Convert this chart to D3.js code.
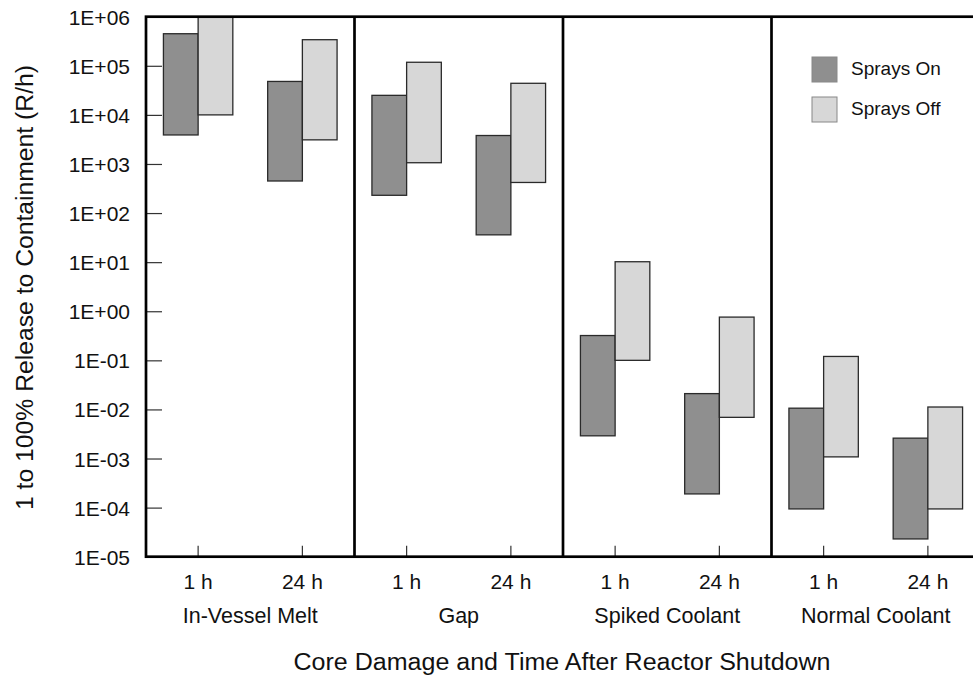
<!DOCTYPE html>
<html lang="en">
<head>
<meta charset="UTF-8">
<title>Release to Containment</title>
<script src="https://cdn.jsdelivr.net/npm/d3@7"></script>
<style>
  * { margin: 0; padding: 0; }
  body { background: #fff; overflow: hidden; }
  svg { display: block; font-family: "Liberation Sans", Arial, sans-serif; }
</style>
</head>
<body>
<svg id="chart" width="973" height="677"></svg>
<script>
// core damage groups and times after shutdown
const groups = ["In-Vessel Melt", "Gap", "Spiked Coolant", "Normal Coolant"];
const times = ["1 h", "24 h"];
const series = ["Sprays On", "Sprays Off"];

// [low, high] dose-rate ranges (R/h), order: group x time
const spraysOnLow  = [3.9e3, 4.5e2, 2.3e2, 3.6e1, 2.9e-3, 1.9e-4, 9.4e-5, 2.3e-5];
const spraysOnHigh = [4.5e5, 4.8e4, 2.5e4, 3.8e3, 3.2e-1, 2.1e-2, 1.06e-2, 2.6e-3];
const spraysOffLow  = [1.0e4, 3.1e3, 1.06e3, 4.2e2, 1.0e-1, 6.9e-3, 1.08e-3, 9.4e-5];
const spraysOffHigh = [1.0e6, 3.4e5, 1.18e5, 4.4e4, 1.02e1, 7.6e-1, 1.2e-1, 1.12e-2];

const yTicks = [1e-5, 1e-4, 1e-3, 1e-2, 1e-1, 1e0, 1e1, 1e2, 1e3, 1e4, 1e5, 1e6];
const colors = { "Sprays On": "#8f8f8f", "Sprays Off": "#d7d7d7" };

const plotLeft = 146, plotRight = 980, plotTop = 16.7, plotBottom = 556.7;
const svg = d3.select("#chart");

const y = d3.scaleLog().domain([1e-5, 1e6]).range([plotBottom, plotTop]);
const gx = d3.scaleBand().domain(groups).range([plotLeft, plotRight]);
const tx = d3.scalePoint().domain(times).range([0.25, 0.75]);

const slots = [];
groups.forEach((g, gi) => times.forEach((t, ti) => {
  const i = gi * 2 + ti;
  slots.push({
    group: g, time: t,
    x: gx(g) + tx(t) * gx.bandwidth(),
    on: [spraysOnLow[i], spraysOnHigh[i]],
    off: [spraysOffLow[i], spraysOffHigh[i]]
  });
}));

const barW = 34.7;

// y ticks (inward)
const yAxis = d3.axisRight(y).tickValues(yTicks).tickSize(16).tickFormat("");
const ya = svg.append("g").attr("transform", `translate(${plotLeft},0)`).call(yAxis);
ya.select(".domain").remove();
ya.selectAll(".tick line").attr("stroke", "#333").attr("stroke-width", 1.2);

const fmt = v => {
  const e = Math.round(Math.log10(v));
  return "1E" + (e < 0 ? "-" : "+") + String(Math.abs(e)).padStart(2, "0");
};
svg.append("g").selectAll("text").data(yTicks).join("text")
  .attr("x", 130).attr("y", d => y(d) + 8)
  .attr("text-anchor", "end").attr("font-size", 21).attr("fill", "#111")
  .text(fmt);

// x ticks (inward)
svg.append("g").selectAll("line").data(slots).join("line")
  .attr("x1", d => d.x).attr("x2", d => d.x)
  .attr("y1", plotBottom).attr("y2", plotBottom - 11)
  .attr("stroke", "#333").attr("stroke-width", 1.2);

// bars
const barG = svg.append("g");
barG.selectAll("rect.on").data(slots).join("rect").attr("class", "on")
  .attr("x", d => d.x - barW).attr("width", barW)
  .attr("y", d => y(d.on[1])).attr("height", d => y(d.on[0]) - y(d.on[1]))
  .attr("fill", colors["Sprays On"]).attr("stroke", "#2a2a2a").attr("stroke-width", 1.3);
barG.selectAll("rect.off").data(slots).join("rect").attr("class", "off")
  .attr("x", d => d.x).attr("width", barW)
  .attr("y", d => y(d.off[1])).attr("height", d => y(d.off[0]) - y(d.off[1]))
  .attr("fill", colors["Sprays Off"]).attr("stroke", "#2a2a2a").attr("stroke-width", 1.3);

// frame and group dividers
const frame = svg.append("g").attr("stroke", "#000").attr("stroke-width", 2.7).attr("fill", "none");
frame.append("rect").attr("x", plotLeft).attr("y", plotTop)
  .attr("width", plotRight - plotLeft).attr("height", plotBottom - plotTop);
frame.selectAll("line").data(groups.slice(1)).join("line")
  .attr("x1", d => gx(d)).attr("x2", d => gx(d))
  .attr("y1", plotTop).attr("y2", plotBottom);

// x labels
svg.append("g").selectAll("text").data(slots).join("text")
  .attr("x", d => d.x).attr("y", 589)
  .attr("text-anchor", "middle").attr("font-size", 21).attr("fill", "#111")
  .text(d => d.time);
svg.append("g").selectAll("text").data(groups).join("text")
  .attr("x", d => gx(d) + gx.bandwidth() / 2).attr("y", 623)
  .attr("text-anchor", "middle").attr("font-size", 21.5).attr("fill", "#111")
  .text(d => d);

svg.append("text")
  .attr("x", 562).attr("y", 670)
  .attr("text-anchor", "middle").attr("font-size", 23).attr("fill", "#111")
  .attr("textLength", 537).attr("lengthAdjust", "spacingAndGlyphs")
  .text("Core Damage and Time After Reactor Shutdown");

svg.append("text")
  .attr("transform", "translate(33,287.5) rotate(-90)")
  .attr("text-anchor", "middle").attr("font-size", 23).attr("fill", "#111")
  .attr("textLength", 445).attr("lengthAdjust", "spacingAndGlyphs")
  .text("1 to 100% Release to Containment (R/h)");

// legend
const legend = svg.append("g").attr("transform", "translate(812,57)");
const li = legend.selectAll("g").data(series).join("g")
  .attr("transform", (d, i) => `translate(0,${i * 40})`);
li.append("rect").attr("width", 25).attr("height", 25)
  .attr("fill", d => colors[d]).attr("stroke", "#888").attr("stroke-width", 1);
li.append("text").attr("x", 39).attr("y", 18)
  .attr("font-size", 19).attr("fill", "#111").text(d => d);
</script>
</body>
</html>
